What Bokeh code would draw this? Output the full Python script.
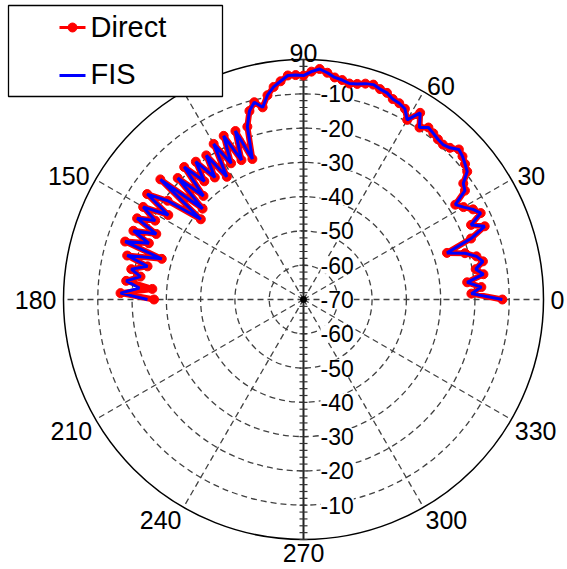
import numpy as np
from bokeh.plotting import figure
from bokeh.models import Range1d, ColumnDataSource
from bokeh.embed import file_html
from bokeh.resources import INLINE
from bokeh.core.properties import value

# ---------------- data ----------------
angles_deg = list(range(0, 181, 2))
direct_db = [
    -12.0, -21.0, -18.0, -22.0, -17.0, -19.0, -16.5, -18.0, -21.0, -26.0,   # 0-18
    -18.0, -13.0, -16.5, -12.5, -14.0, -16.1, -17.8, -13.2, -12.4, -9.4,    # 20-38
    -8.5, -7.6, -7.0, -8.5, -9.2, -9.0, -8.5, -8.0, -9.5, -5.8,             # 40-58
    -9.5, -7.0, -6.3, -6.0, -5.0, -4.7, -4.1, -4.5, -5.2, -5.6,             # 60-78
    -5.0, -4.6, -3.5, -2.6, -3.5, -4.7, -4.5, -4.5, -6.0, -7.4,             # 80-98
    -9.5, -12.7, -10.7, -12.8, -17.0, -26.4, -17.0, -25.5, -16.9, -25.0,    # 100-118
    -17.6, -27.8, -19.3, -26.0, -19.0, -25.0, -18.0, -28.0, -19.0, -30.4,   # 120-138
    -15.5, -32.0, -21.0, -15.0, -23.5, -16.0, -21.0, -16.0, -23.0, -16.5,   # 140-158
    -22.0, -15.3, -27.0, -17.0, -23.5, -19.0, -22.0, -18.0, -25.8, -16.6,   # 160-178
    -26.4,                                                                  # 180
]
fis_db = [
    -12.0, -21.0, -18.0, -22.0, -17.0, -19.0, -16.5, -18.0, -21.0, -26.0,
    -18.0, -13.0, -16.5, -12.5, -14.0, -16.1, -17.8, -13.2, -12.4, -9.4,
    -8.5, -7.6, -7.0, -8.5, -9.2, -9.0, -8.5, -8.0, -9.5, -5.8,
    -9.5, -7.0, -6.3, -6.0, -5.0, -4.7, -4.1, -4.5, -5.2, -5.6,
    -5.0, -4.6, -3.5, -2.6, -3.5, -4.7, -4.5, -4.5, -6.0, -7.4,
    -9.5, -12.7, -10.7, -12.8, -17.0, -26.4, -17.0, -25.5, -16.9, -25.0,
    -17.6, -27.8, -19.3, -26.0, -19.0, -25.0, -18.0, -28.0, -19.0, -30.4,
    -15.5, -32.0, -21.0, -15.0, -23.5, -16.0, -21.0, -16.0, -23.0, -16.5,
    -22.0, -15.3, -27.0, -17.0, -23.5, -19.0, -22.0, -18.0, -22.0, -16.6,
    -24.5,
]
r_ring_db = [-10, -20, -30, -40, -50, -60]
r_label_db = [-10, -20, -30, -40, -50, -60, -70]
r_labels = ["-10", "-20", "-30", "-40", "-50", "-60", "-70"]
theta_ticks = [0, 30, 60, 90, 120, 150, 180, 210, 240, 270, 300, 330]
theta_labels = ["0", "30", "60", "90", "120", "150", "180", "210", "240", "270", "300", "330"]
r_minor_db = list(range(-68, 1, 2))
series_names = ["Direct", "FIS"]
R_MIN, R_MAX = -70, 0

# ---------------- layout ----------------
W, H = 567, 569
CX, CY = 303, 299     # pixel position of the pole
R = 240               # pixel radius of the outer circle
FONT = "Liberation Sans"


def rscale(db):
    return (np.asarray(db, dtype=float) - R_MIN) / (R_MAX - R_MIN) * R


def polar(theta_deg, db):
    t = np.deg2rad(np.asarray(theta_deg, dtype=float))
    r = rscale(db)
    return r * np.cos(t), r * np.sin(t)


def sx(xp):
    return xp - CX


def sy(yp):
    return CY - yp


p = figure(width=W, height=H,
           x_range=Range1d(-CX, W - CX), y_range=Range1d(-(H - CY), CY),
           output_backend="svg", toolbar_location=None,
           x_axis_type=None, y_axis_type=None, min_border=0,
           outline_line_color=None, background_fill_color="white")

GRID = "#404040"
DASH = "6 4"

# dashed rings
p.circle(x=[0] * len(r_ring_db), y=[0] * len(r_ring_db), radius=list(rscale(r_ring_db)),
         fill_color=None, line_color=GRID, line_dash=DASH, line_width=1.3)

# dashed spokes
spokes = [t for t in theta_ticks if t not in (90, 270)]
st = np.deg2rad(spokes)
p.segment(x0=[0] * len(spokes), y0=[0] * len(spokes),
          x1=list(R * np.cos(st)), y1=list(R * np.sin(st)),
          line_color=GRID, line_dash=DASH, line_width=1.3)

# outer circle
p.circle(x=[0], y=[0], radius=[R], fill_color=None, line_color="black", line_width=1.5)

# radial (vertical) axis with minor ticks
p.segment(x0=[0], y0=[-R], x1=[0], y1=[R], line_color="#222222", line_width=2)
mr = rscale(r_minor_db)
p.segment(x0=[-4] * (2 * len(mr)), x1=[4] * (2 * len(mr)),
          y0=list(mr) + list(-mr), y1=list(mr) + list(-mr),
          line_color="#333333", line_width=1.2)
p.scatter(x=[0], y=[0], size=6, color="black")

# radial labels (above and below the pole)
lr = rscale(r_label_db)
lab_src = ColumnDataSource(dict(
    x=[17] * (2 * len(lr) - 1),
    y=list(lr) + list(-lr[:-1]),
    text=r_labels + r_labels[:-1]))
p.text(x="x", y="y", text="text", source=lab_src, text_font=value(FONT),
       text_font_size="23px", text_align="left", text_baseline="middle",
       text_color="black", background_fill_color="white")

# angular labels
ax_, ay_, aal, abl = [], [], [], []
for t in theta_ticks:
    c, s = np.cos(np.deg2rad(t)), np.sin(np.deg2rad(t))
    rr = 247 if s > -0.1 else 244
    ax_.append(rr * c)
    ay_.append(rr * s)
    aal.append("left" if c > 0.1 else ("right" if c < -0.1 else "center"))
    abl.append("alphabetic" if s > 0.1 else ("top" if s < -0.1 else "middle"))
ang_src = ColumnDataSource(dict(x=ax_, y=ay_, text=theta_labels, align=aal, base=abl))
p.text(x="x", y="y", text="text", source=ang_src, text_font=value(FONT),
       text_font_size="25px", text_align="align", text_baseline="base", text_color="black")

# data series
dx, dy = polar(angles_deg, direct_db)
fx, fy = polar(angles_deg, fis_db)
p.line(dx, dy, line_color="#ff0000", line_width=6, line_join="round")
p.scatter(dx, dy, size=9, color="#ff0000")
p.line(fx, fy, line_color="#0000ff", line_width=3)

# legend box (drawn by hand to match the reference placement)
p.quad(left=[sx(8)], right=[sx(222)], top=[sy(5)], bottom=[sy(96)],
       fill_color="white", line_color="black", line_width=1.3)
p.line([sx(59), sx(85)], [sy(27), sy(27)], line_color="#ff0000", line_width=3)
p.scatter([sx(72)], [sy(27)], size=9, color="#ff0000")
p.line([sx(59), sx(85)], [sy(75), sy(75)], line_color="#0000ff", line_width=3)
leg_src = ColumnDataSource(dict(x=[sx(90), sx(90)], y=[sy(26), sy(73)], text=series_names))
p.text(x="x", y="y", text="text", source=leg_src, text_font=value(FONT),
       text_font_size="29px", text_align="left", text_baseline="middle", text_color="black")

open("out.html", "w").write(file_html(p, INLINE))
